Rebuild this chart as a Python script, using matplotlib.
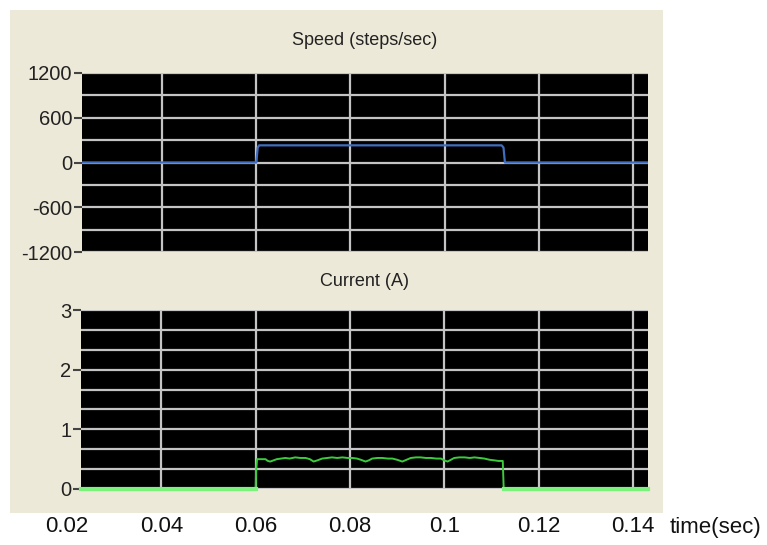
import matplotlib.pyplot as plt
import matplotlib.transforms as mtransforms
from matplotlib.patches import Rectangle

# данные
speed_t = [0.0, 0.0600, 0.0603, 0.0606, 0.1121, 0.1125, 0.1128, 0.16]
speed_v = [0, 0, 200, 230, 230, 200, 0, 0]

current_t = [0.0, 0.0600, 0.0601, 0.0603, 0.0612, 0.0621, 0.0626, 0.0631, 0.0638,
             0.0645, 0.0654, 0.0663, 0.0672, 0.0684, 0.0695, 0.0706, 0.0715, 0.0723,
             0.0731, 0.0741, 0.0752, 0.0762, 0.0773, 0.0784, 0.0795, 0.0805, 0.0815,
             0.0823, 0.0833, 0.0840, 0.0847, 0.0858, 0.0869, 0.0880, 0.0890, 0.0900,
             0.0911, 0.0920, 0.0929, 0.0940, 0.0950, 0.0961, 0.0972, 0.0983, 0.0993,
             0.1000, 0.1007, 0.1014, 0.1021, 0.1032, 0.1043, 0.1054, 0.1064, 0.1075,
             0.1085, 0.1096, 0.1106, 0.1115, 0.1124, 0.1126, 0.16]
current_v = [0, 0, 0.30, 0.50, 0.50, 0.50, 0.47, 0.46, 0.48,
             0.50, 0.51, 0.52, 0.51, 0.53, 0.52, 0.52, 0.50, 0.46,
             0.48, 0.51, 0.52, 0.53, 0.52, 0.53, 0.52, 0.52, 0.51,
             0.49, 0.46, 0.48, 0.51, 0.52, 0.52, 0.51, 0.51, 0.49,
             0.46, 0.49, 0.52, 0.53, 0.53, 0.52, 0.52, 0.51, 0.51,
             0.48, 0.46, 0.49, 0.52, 0.53, 0.53, 0.52, 0.53, 0.52,
             0.51, 0.49, 0.48, 0.47, 0.47, 0, 0]

time_labels = [0.02, 0.04, 0.06, 0.08, 0.1, 0.12, 0.14]
x_grid = [0.04, 0.06, 0.08, 0.10, 0.12, 0.14]

speed_ticks = [-1200, -600, 0, 600, 1200]
speed_minor = [-900, -300, 300, 900]
current_ticks = [0, 1, 2, 3]
current_minor = [1/3, 2/3, 4/3, 5/3, 7/3, 8/3]

fig = plt.figure(figsize=(7.67, 5.45), dpi=100)
fig.patches.append(Rectangle((10/767, 1 - 513/545), 653/767, 503/545,
                             transform=fig.transFigure, facecolor='#ECE9D8',
                             edgecolor='none', zorder=-10))

font = 'Liberation Sans'
xlim = (0.02298, 0.14319)

ax1 = fig.add_axes([82/767, 1 - 252/545, 566/767, 179/545])
ax2 = fig.add_axes([81/767, 1 - 489/545, 567/767, 179/545])

def style_axes(ax, major, minor, ylim, title, pad):
    ax.set_facecolor('black')
    ax.set_xlim(*xlim)
    ax.set_ylim(*ylim)
    ax.set_xticks(x_grid)
    ax.set_xticklabels([])
    ax.tick_params(axis='x', length=0)
    ax.set_yticks(major)
    ax.set_yticks(minor, minor=True)
    ax.set_yticklabels([str(v) for v in major], fontfamily=font, fontsize=14.5, color='#222222')
    ax.tick_params(axis='y', which='major', length=6, width=1.5, color='#444444', pad=1)
    ax.tick_params(axis='y', which='minor', length=0)
    ax.grid(True, which='both', color='#C4C4C4', linewidth=1.6)
    for s in ax.spines.values():
        s.set_visible(False)
    ax.set_axisbelow(True)
    ax.set_title(title, fontfamily=font, fontsize=13, color='#222222', pad=pad)

style_axes(ax1, speed_ticks, speed_minor, (-1200, 1200), 'Speed (steps/sec)', 20)
style_axes(ax2, current_ticks, current_minor, (0, 3), 'Current (A)', 17)

ax1.plot(speed_t, speed_v, color='#3F6DBF', linewidth=1.6, zorder=3)
ax2.plot(current_t, current_v, color='#3CCB3C', linewidth=1.4, zorder=3)
ax2.plot([xlim[0], 0.0600], [0, 0], color='#7CF27C', linewidth=3, clip_on=False, zorder=4)
ax2.plot([0.1126, xlim[1]], [0, 0], color='#7CF27C', linewidth=3, clip_on=False, zorder=4)

# подписи времени под панелью
trans = mtransforms.blended_transform_factory(ax2.transData, fig.transFigure)
for t in time_labels:
    ax2.text(t, 1 - 527/545, f'{t:g}', transform=trans, ha='center', va='center',
             fontfamily=font, fontsize=16, color='#111111', clip_on=False)
fig.text(715/767, 1 - 527/545, 'time(sec)', ha='center', va='center',
         fontfamily=font, fontsize=16, color='#111111')

fig.savefig('out.png', dpi=100)
